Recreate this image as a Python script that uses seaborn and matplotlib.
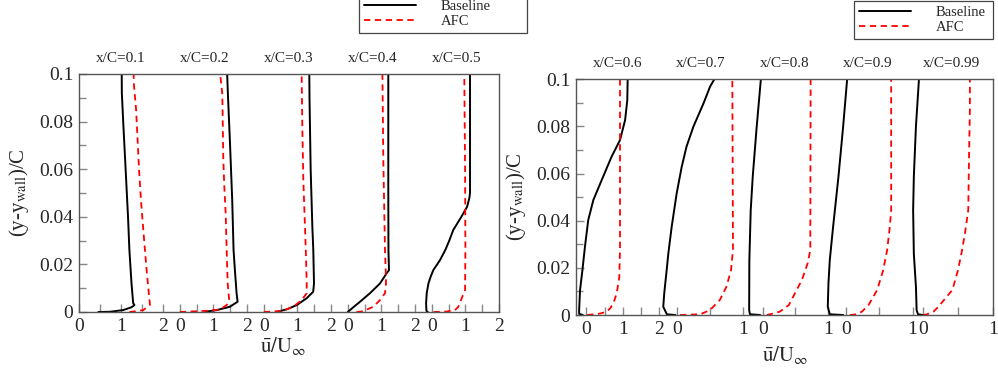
import numpy as np
import pandas as pd
import matplotlib
matplotlib.use("Agg")
import matplotlib.pyplot as plt
import seaborn as sns
from matplotlib.lines import Line2D
from matplotlib.ticker import FixedLocator, FixedFormatter

sns.set_theme(style="white")
plt.rcParams["font.family"] = ["Liberation Serif", "DejaVu Serif"]
plt.rcParams["mathtext.fontset"] = "stix"

# ---------------- data (u/U_inf vs (y-y_wall)/C) ----------------
left_stations = ["x/C=0.1", "x/C=0.2", "x/C=0.3", "x/C=0.4", "x/C=0.5"]
right_stations = ["x/C=0.6", "x/C=0.7", "x/C=0.8", "x/C=0.9", "x/C=0.99"]

# Left panel, Baseline
b01_y = [0, 0.0001, 0.0008, 0.002, 0.0029, 0.0037, 0.012, 0.026, 0.040, 0.060, 0.079, 0.092, 0.1]
b01_u = [0.46, 0.74, 1.05, 1.25, 1.32, 1.29, 1.25, 1.20, 1.167, 1.11, 1.055, 1.02, 1.017]
b02_y = [0, 0.0002, 0.0008, 0.0022, 0.0043, 0.0079, 0.0176, 0.026, 0.047, 0.0709, 0.092, 0.1]
b02_u = [0.75, 0.80, 1.10, 1.49, 1.72, 1.69, 1.64, 1.60, 1.56, 1.494, 1.43, 1.41]
b03_y = [0, 0.0003, 0.0011, 0.0029, 0.0058, 0.0085, 0.012, 0.026, 0.0358, 0.0597, 0.09, 0.1]
b03_u = [0.40, 0.45, 0.68, 0.98, 1.277, 1.47, 1.494, 1.473, 1.445, 1.395, 1.36, 1.354]
b04_y = [0, 0.002, 0.0043, 0.0079, 0.012, 0.0163, 0.0176, 0.026, 0.05, 0.1]
b04_u = [0.0, 0.164, 0.363, 0.66, 0.958, 1.157, 1.226, 1.21, 1.205, 1.205]
b05_y = [0, 0.0005, 0.0037, 0.008, 0.012, 0.015, 0.0176, 0.0218, 0.026, 0.030, 0.0345, 0.04, 0.0442, 0.048, 0.05, 0.1]
b05_u = [-0.12, -0.16, -0.17, -0.15, -0.10, -0.03, 0.045, 0.244, 0.40, 0.52, 0.64, 0.88, 1.05, 1.12, 1.137, 1.137]

# Left panel, AFC
a01_y = [0, 0.0002, 0.0008, 0.003, 0.0064, 0.0176, 0.026, 0.0458, 0.0597, 0.0849, 0.095, 0.1]
a01_u = [1.2, 1.29, 1.53, 1.69, 1.67, 1.61, 1.57, 1.48, 1.43, 1.36, 1.31, 1.30]
a02_y = [0, 0.0002, 0.0005, 0.001, 0.003, 0.005, 0.012, 0.026, 0.0412, 0.0526, 0.0639, 0.0916, 0.098, 0.1]
a02_u = [0.0, 0.3, 0.8, 1.196, 1.40, 1.47, 1.425, 1.395, 1.366, 1.325, 1.295, 1.265, 1.217, 1.20]
a03_y = [0, 0.0002, 0.0006, 0.0022, 0.005, 0.0079, 0.012, 0.0232, 0.0358, 0.0555, 0.078, 0.098, 0.1]
a03_u = [0.0, 0.28, 0.58, 0.878, 1.128, 1.277, 1.277, 1.256, 1.226, 1.176, 1.146, 1.128, 1.13]
a04_y = [0, 0.0003, 0.001, 0.0022, 0.005, 0.0079, 0.012, 0.0176, 0.026, 0.0639, 0.1]
a04_u = [0.26, 0.46, 0.56, 0.759, 0.958, 1.107, 1.137, 1.128, 1.107, 1.057, 1.03]
a05_y = [0, 0.0002, 0.0008, 0.0022, 0.0058, 0.0092, 0.026, 0.06, 0.1]
a05_u = [0.05, 0.44, 0.69, 0.79, 0.89, 0.99, 1.0, 0.99, 0.967]

# Right panel, Baseline
b06_y = [0, 0.0005, 0.002, 0.0106, 0.019, 0.029, 0.0403, 0.0488, 0.0573, 0.0672, 0.0742, 0.0827, 0.0912, 0.1]
b06_u = [-0.10, -0.20, -0.20, -0.175, -0.11, -0.04, 0.05, 0.19, 0.42, 0.69, 0.92, 1.06, 1.12, 1.13]
b07_y = [0, 0.0003, 0.0035, 0.0092, 0.019, 0.0262, 0.0375, 0.0516, 0.0629, 0.0714, 0.0799, 0.0898, 0.0969, 0.1]
b07_u = [-0.03, -0.16, -0.215, -0.20, -0.163, -0.137, -0.086, -0.01, 0.067, 0.14, 0.245, 0.40, 0.50, 0.565]
b08_y = [0, 0.0003, 0.002, 0.0233, 0.0445, 0.0587, 0.0799, 0.1]
b08_u = [-0.04, -0.197, -0.21, -0.207, -0.186, -0.155, -0.094, -0.03]
b09_y = [0, 0.0003, 0.0035, 0.0134, 0.0233, 0.0375, 0.0587, 0.0799, 0.1]
b09_u = [-0.04, -0.24, -0.27, -0.26, -0.24, -0.19, -0.11, -0.04, 0.02]
b10_y = [0, 0.0003, 0.002, 0.012, 0.026, 0.0445, 0.0587, 0.08, 0.1]
b10_u = [0.0, -0.07, -0.09, -0.10, -0.13, -0.14, -0.13, -0.10, -0.057]

# Right panel, AFC
a06_y = [0, 0.0003, 0.0006, 0.0014, 0.0028, 0.005, 0.0092, 0.016, 0.0276, 0.1]
a06_u = [0.02, 0.20, 0.37, 0.55, 0.65, 0.74, 0.83, 0.90, 0.92, 0.92]
a07_y = [0, 0.0001, 0.0003, 0.0021, 0.0064, 0.012, 0.019, 0.0276, 0.1]
a07_u = [0.04, 0.14, 0.35, 0.50, 0.65, 0.75, 0.82, 0.85, 0.84]
a08_y = [0, 0.0003, 0.0014, 0.0042, 0.0106, 0.0148, 0.022, 0.0276, 0.1]
a08_u = [0.06, 0.11, 0.26, 0.40, 0.52, 0.60, 0.69, 0.73, 0.735]
a09_y = [0, 0.0003, 0.0014, 0.0042, 0.0106, 0.019, 0.0276, 0.0375, 0.0445, 0.1]
a09_u = [0.06, 0.16, 0.24, 0.34, 0.47, 0.56, 0.62, 0.66, 0.68, 0.68]
a10_y = [0, 0.0003, 0.0014, 0.0035, 0.0078, 0.0106, 0.019, 0.0262, 0.0347, 0.0445, 0.0658, 0.087, 0.1]
a10_u = [0.0, 0.06, 0.15, 0.22, 0.34, 0.42, 0.50, 0.55, 0.60, 0.647, 0.657, 0.67, 0.67]

# station offsets / scales on the shared horizontal axis (0..10)
left_offsets = [0.0, 2.4, 4.4, 6.4, 8.4]
left_scales = [1.0, 0.8, 0.8, 0.8, 0.8]
left_major_u = [[0, 1, 2]] * 5
left_minor_u = [[0.5, 1.5]] * 5
right_offsets = [0.25, 2.43, 4.48, 6.47, 8.32]
right_scales = [0.875, 1.57, 1.56, 1.60, 1.68]
right_major_u = [[0, 1, 2], [0, 1], [0, 1], [0, 1], [0, 1]]
right_minor_u = [[0.5, 1.5], [0.5], [0.5], [0.5], [0.5]]

left_profiles = {
    "Baseline": [(b01_y, b01_u), (b02_y, b02_u), (b03_y, b03_u), (b04_y, b04_u), (b05_y, b05_u)],
    "AFC": [(a01_y, a01_u), (a02_y, a02_u), (a03_y, a03_u), (a04_y, a04_u), (a05_y, a05_u)],
}
right_profiles = {
    "Baseline": [(b06_y, b06_u), (b07_y, b07_u), (b08_y, b08_u), (b09_y, b09_u), (b10_y, b10_u)],
    "AFC": [(a06_y, a06_u), (a07_y, a07_u), (a08_y, a08_u), (a09_y, a09_u), (a10_y, a10_u)],
}


def build(stations, offsets, scales, profiles):
    rows = []
    for case, plist in profiles.items():
        for i, (yy, uu) in enumerate(plist):
            for k, (yv, uv) in enumerate(zip(yy, uu)):
                rows.append(dict(case=case, station=stations[i], order=k, y=yv,
                                 x=offsets[i] + scales[i] * uv))
    return pd.DataFrame(rows)


fig = plt.figure(figsize=(9.98, 3.71), dpi=100)
axL = fig.add_axes([79 / 998, 1 - 312 / 371, 420 / 998, 238 / 371])
axR = fig.add_axes([576 / 998, 1 - 315 / 371, 417 / 998, 235.7 / 371])

spine_col = "#555555"
tick_col = "#888888"


def draw(ax, stations, offsets, scales, profiles, major_u, minor_u, lab_dy):
    df = build(stations, offsets, scales, profiles)
    sns.lineplot(data=df[df.case == "Baseline"], x="x", y="y", units="station",
                 estimator=None, sort=False, color="black", linewidth=1.4,
                 legend=False, ax=ax)
    sns.lineplot(data=df[df.case == "AFC"], x="x", y="y", units="station",
                 style="case", dashes={"AFC": (3.5, 2.5)},
                 estimator=None, sort=False, color="red", linewidth=1.3,
                 legend=False, ax=ax)
    ax.set_xlim(0, 10)
    ax.set_ylim(0, 0.1)
    maj_pos, maj_lab, min_pos = [], [], []
    for i in range(len(stations)):
        for m in major_u[i]:
            maj_pos.append(offsets[i] + scales[i] * m)
            maj_lab.append(str(m))
        for m in minor_u[i]:
            min_pos.append(offsets[i] + scales[i] * m)
    ax.xaxis.set_major_locator(FixedLocator(maj_pos))
    ax.xaxis.set_major_formatter(FixedFormatter(maj_lab))
    ax.xaxis.set_minor_locator(FixedLocator(min_pos))
    ax.yaxis.set_major_locator(FixedLocator([0, 0.02, 0.04, 0.06, 0.08, 0.1]))
    ax.yaxis.set_major_formatter(FixedFormatter(["0", "0.02", "0.04", "0.06", "0.08", "0.1"]))
    ax.yaxis.set_minor_locator(FixedLocator([0.01, 0.03, 0.05, 0.07, 0.09]))
    ax.tick_params(axis="x", which="both", direction="in", bottom=True, top=False,
                   color=tick_col, width=1.0, labelsize=14, pad=4)
    ax.tick_params(axis="x", which="major", length=6)
    ax.tick_params(axis="x", which="minor", length=6)
    ax.tick_params(axis="y", which="both", direction="in", left=True, right=False,
                   color=tick_col, width=1.0, labelsize=14, pad=4)
    ax.tick_params(axis="y", which="major", length=6)
    ax.tick_params(axis="y", which="minor", length=5)
    for s in ax.spines.values():
        s.set_color(spine_col)
        s.set_linewidth(1.0)
    ax.set_xlabel("")
    ax.set_ylabel("")
    for i, st in enumerate(stations):
        ax.text(2 * i + 1, 1 + lab_dy, st, transform=ax.get_xaxis_transform(),
                ha="center", va="center", fontsize=11)


draw(axL, left_stations, left_offsets, left_scales, left_profiles, left_major_u, left_minor_u, 16 / 238)
draw(axR, right_stations, right_offsets, right_scales, right_profiles, right_major_u, right_minor_u, 16 / 235.7)

for ax, lx, ly, xx, xy in [(axL, -0.114, 0.5, 0.486, -0.095), (axR, -0.116, 0.5, 0.501, -0.122)]:
    ax.set_ylabel(r"(y-y$_{\mathrm{wall}}$)/C", fontsize=15)
    ax.set_xlabel(r"$\mathrm{\bar{u}/U_{\infty}}$", fontsize=15)
    ax.yaxis.set_label_coords(lx, ly)
    ax.xaxis.set_label_coords(xx, xy)

handles = [Line2D([], [], color="black", lw=1.4),
           Line2D([], [], color="red", lw=1.3, dashes=(3.5, 2.5))]
labels = ["Baseline", "AFC"]
for x0, y0, w in [(359, 33, 168), (854, 39, 139)]:
    leg = fig.legend(handles, labels, loc="lower left",
                     bbox_to_anchor=(x0 / 998, 1 - y0 / 371, w / 998, 0.01),
                     mode="expand", fontsize=10.5, handlelength=3.56,
                     handletextpad=1.7, labelspacing=0.1, borderpad=0.35,
                     borderaxespad=0, fancybox=False, framealpha=1,
                     edgecolor="#444444")
    leg.get_frame().set_linewidth(0.9)

fig.savefig("out.png", dpi=100)
